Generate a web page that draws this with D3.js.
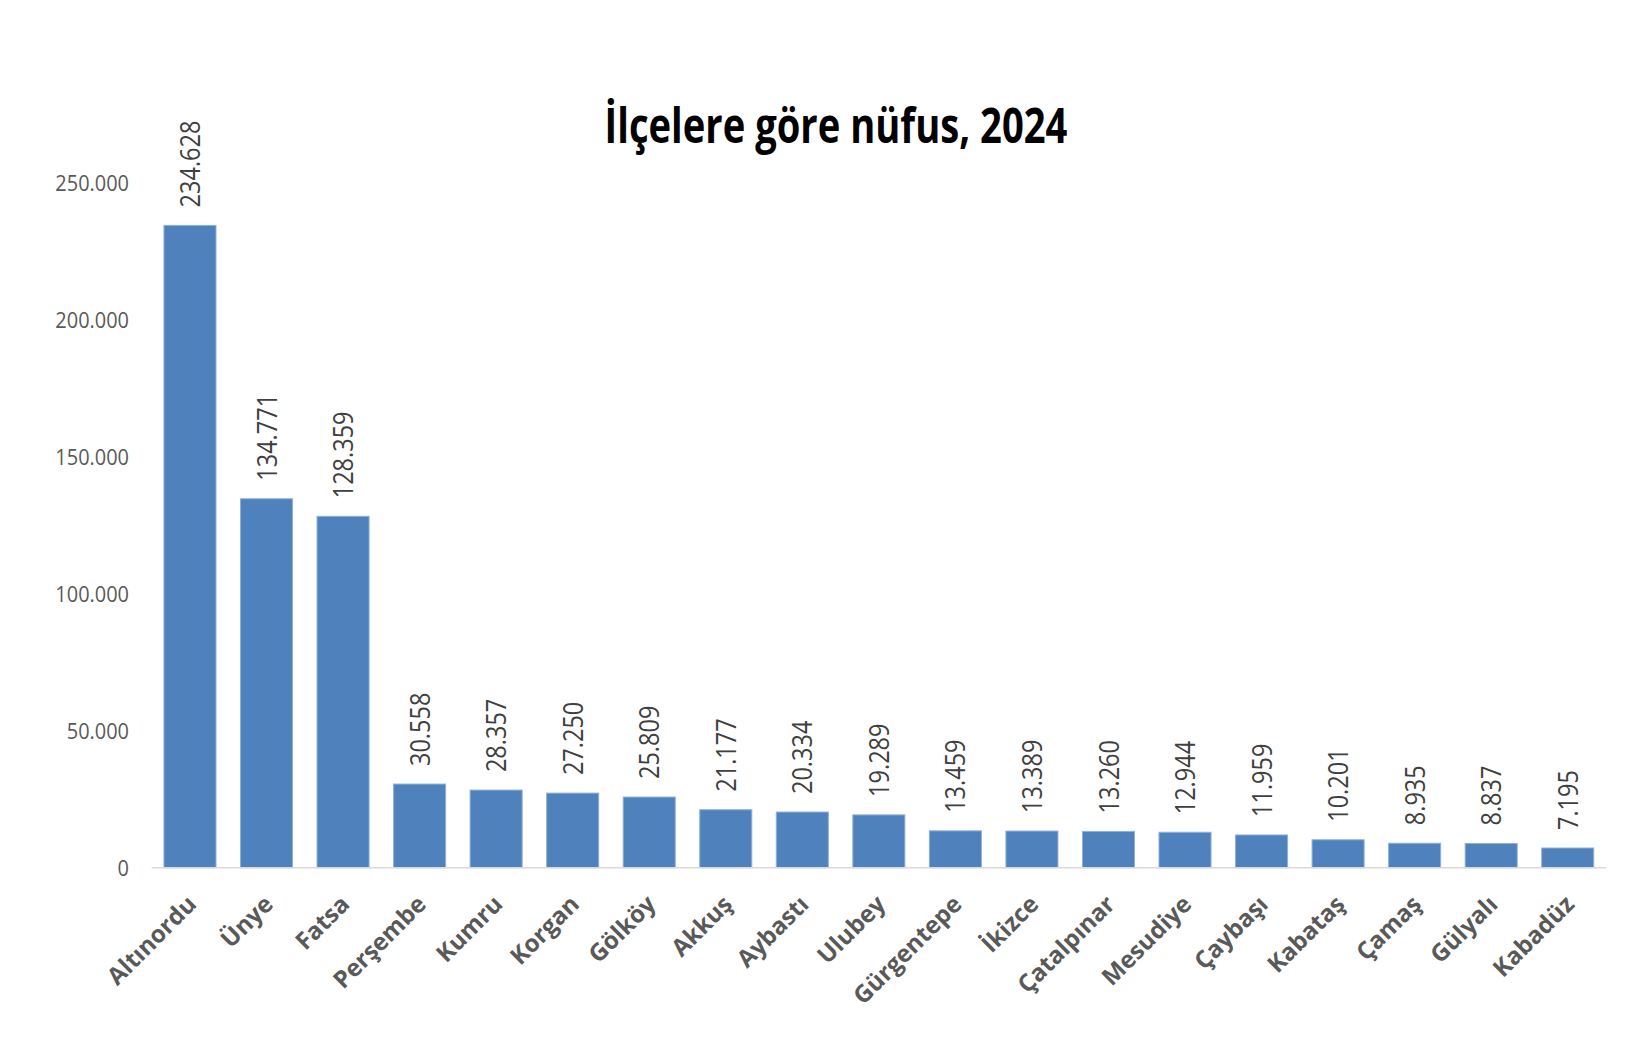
<!DOCTYPE html>
<html><head><meta charset="utf-8">
<script src="https://cdn.jsdelivr.net/npm/d3@7"></script>
<style>html,body{margin:0;padding:0;background:#fff;}</style>
</head><body>
<svg id="chart" width="1635" height="1057"></svg>
<script>
const categories = ["Altınordu","Ünye","Fatsa","Perşembe","Kumru","Korgan","Gölköy","Akkuş","Aybastı","Ulubey","Gürgentepe","İkizce","Çatalpınar","Mesudiye","Çaybaşı","Kabataş","Çamaş","Gülyalı","Kabadüz"];
const population = [234628,134771,128359,30558,28357,27250,25809,21177,20334,19289,13459,13389,13260,12944,11959,10201,8935,8837,7195];
const yTicks = [0,50000,100000,150000,200000,250000];
const titleText = "İlçelere göre nüfus, 2024";

const fmt = v => d3.format(",")(v).replace(/,/g,".");
const svg = d3.select("#chart");
const FONT = "'Open Sans', sans-serif";

const x = d3.scaleBand().domain(categories).range([151.7,1606]).paddingInner(0.32).paddingOuter(0.16);
const y = d3.scaleLinear().domain([0,250000]).range([867.7,183.3]);

// title
const title = svg.append("text").attr("font-family",FONT).attr("font-weight",700)
  .attr("font-size",48).attr("fill","#000").attr("text-anchor","middle").text(titleText);
const tl = title.node().getComputedTextLength();
title.attr("transform",`translate(836,142.5) scale(${463/tl},1)`);

// y axis labels
const yAxis = d3.axisLeft(y).tickValues(yTicks).tickFormat(fmt).tickSize(0).tickPadding(0);
const ya = svg.append("g").attr("transform","translate(129,0)").call(yAxis);
ya.select(".domain").remove();
ya.selectAll(".tick text").attr("font-family",FONT).attr("font-size",21).attr("fill","#595959")
  .attr("x",0).attr("dy","0.35em").attr("transform","scale(0.95,1)");

// bars
svg.append("g").selectAll("rect").data(population).join("rect")
  .attr("x",(d,i)=>x(categories[i])).attr("width",x.bandwidth())
  .attr("y",d=>y(d)).attr("height",d=>y(0)-y(d))
  .attr("fill","#4F81BD").attr("stroke","#8fb0d8").attr("stroke-width",1);

// x axis line
svg.append("line").attr("x1",151.7).attr("x2",1606).attr("y1",y(0)).attr("y2",y(0))
  .attr("stroke","#d9d9d9").attr("stroke-width",1.5);

// value labels
svg.append("g").selectAll("text").data(population).join("text")
  .attr("transform",(d,i)=>`translate(${x(categories[i])+x.bandwidth()/2},${y(d)-18}) rotate(-90) scale(0.84,1)`)
  .attr("dy","0.36em").attr("font-family",FONT).attr("font-size",28).attr("fill","#404040")
  .text(d=>fmt(d));

// x labels
const xAxis = d3.axisBottom(x).tickSize(0).tickPadding(0);
const xa = svg.append("g").attr("transform",`translate(0,${y(0)})`).call(xAxis);
xa.select(".domain").remove();
xa.selectAll(".tick text").attr("font-family",FONT).attr("font-weight",700).attr("font-size",24)
  .attr("fill","#595959").attr("text-anchor","end").attr("y",0).attr("dy",0)
  .attr("transform","translate(8,38) rotate(-45)");
</script>
</body></html>
